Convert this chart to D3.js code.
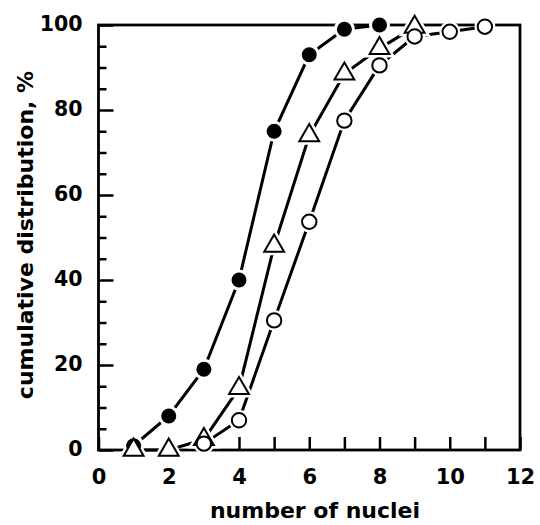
<!DOCTYPE html>
<html><head><meta charset="utf-8">
<script src="https://cdn.jsdelivr.net/npm/d3@7/dist/d3.min.js"></script>
<style>body{margin:0;background:#fff}svg{display:block}text{font-family:"DejaVu Sans",sans-serif;font-weight:bold;fill:#000}</style>
</head><body>
<script>
const xTicks = [0,2,4,6,8,10,12];
const yTicks = [0,20,40,60,80,100];
const filledX = [1,2,3,4,5,6,7,8];
const filledY = [1,8,19,40,75,93,99,100];
const triX = [1,2,3,4,5,6,7,8,9];
const triY = [0,0,2.5,14.5,48,74,88.5,94.5,99.5];
const openX = [3,4,5,6,7,8,9,10,11];
const openY = [1.5,7,30.5,53.7,77.5,90.5,97.3,98.4,99.6];

const W=540,H=525;
const m={l:98.5,t:25,r:520,b:450};
const svg=d3.select("body").append("svg").attr("width",W).attr("height",H);
const x=d3.scaleLinear().domain([0,12]).range([m.l,m.r]);
const y=d3.scaleLinear().domain([0,100]).range([m.b,m.t]);

// frame
svg.append("rect").attr("x",m.l).attr("y",m.t).attr("width",m.r-m.l).attr("height",m.b-m.t)
  .attr("fill","none").attr("stroke","#000").attr("stroke-width",2.8);

// x ticks inward
const xa=svg.append("g").attr("transform",`translate(0,${m.b})`)
  .call(d3.axisBottom(x).tickValues(d3.range(0,13,1)).tickSize(-13).tickFormat(""));
xa.select(".domain").remove();
xa.selectAll("line").attr("stroke-width",2.5);
const xl=svg.append("g").attr("transform",`translate(0,${m.b})`)
  .call(d3.axisBottom(x).tickValues(xTicks).tickSize(0).tickFormat(d3.format("d")));
xl.select(".domain").remove();
xl.selectAll("text").attr("font-size",21).attr("font-family","DejaVu Sans").attr("font-weight","bold").attr("y",34).attr("dy",0);

// y ticks inward
const ya=svg.append("g").attr("transform",`translate(${m.l},0)`)
  .call(d3.axisLeft(y).tickValues(d3.range(0,101,5).filter(v=>v%20!==0)).tickSize(-8).tickFormat(""));
ya.select(".domain").remove();
ya.selectAll("line").attr("stroke-width",2.5);
const yb=svg.append("g").attr("transform",`translate(${m.l},0)`)
  .call(d3.axisLeft(y).tickValues(yTicks).tickSize(-15).tickFormat(d3.format("d")));
yb.select(".domain").remove();
yb.selectAll("line").attr("stroke-width",2.5);
yb.selectAll("text").attr("font-size",20.5).attr("font-family","DejaVu Sans").attr("font-weight","bold").attr("x",-16).attr("dy","0.25em");

const line=d3.line().x(d=>x(d[0])).y(d=>y(d[1]));
const series=[
  {xs:filledX,ys:filledY,type:"filled"},
  {xs:triX,ys:triY,type:"tri"},
  {xs:openX,ys:openY,type:"open"}
];
const plot=svg.append("g");
series.forEach(s=>{
  const pts=s.xs.map((v,i)=>[v,s.ys[i]]);
  plot.append("path").datum(pts).attr("d",line).attr("fill","none").attr("stroke","#000").attr("stroke-width",3);
});
// white halos for gaps
series.forEach(s=>{
  const pts=s.xs.map((v,i)=>[v,s.ys[i]]);
  pts.forEach(p=>{
    if(s.type==="tri"){
      plot.append("path").attr("d",d3.symbol(d3.symbolTriangle,170)()).attr("transform",`translate(${x(p[0])},${y(p[1])})`)
        .attr("fill","#fff").attr("stroke","#fff").attr("stroke-width",7);
    } else {
      plot.append("circle").attr("cx",x(p[0])).attr("cy",y(p[1])).attr("r",10.5).attr("fill","#fff");
    }
  });
});
series.forEach(s=>{
  const pts=s.xs.map((v,i)=>[v,s.ys[i]]);
  pts.forEach(p=>{
    if(s.type==="tri"){
      plot.append("path").attr("d",d3.symbol(d3.symbolTriangle,170)()).attr("transform",`translate(${x(p[0])},${y(p[1])})`)
        .attr("fill","#fff").attr("stroke","#000").attr("stroke-width",2);
    } else if(s.type==="filled"){
      plot.append("circle").attr("cx",x(p[0])).attr("cy",y(p[1])).attr("r",7.5).attr("fill","#000");
    } else {
      plot.append("circle").attr("cx",x(p[0])).attr("cy",y(p[1])).attr("r",7.2).attr("fill","#fff").attr("stroke","#000").attr("stroke-width",2);
    }
  });
});

svg.append("text").attr("x",315).attr("y",518).attr("text-anchor","middle").attr("font-size",22).text("number of nuclei");
svg.append("text").attr("transform",`translate(33,235) rotate(-90)`).attr("text-anchor","middle").attr("font-size",22).text("cumulative distribution, %");
</script>
</body></html>
